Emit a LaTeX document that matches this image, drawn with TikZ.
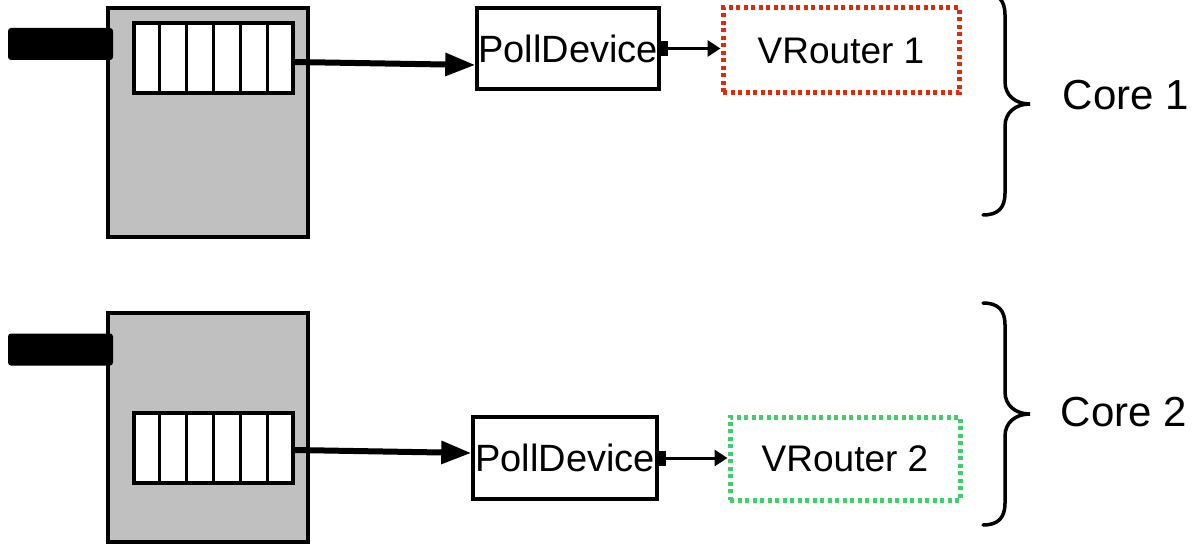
\documentclass[tikz,border=0pt]{standalone}
\usepackage{fontspec}
\setmainfont{Liberation Sans}
\usetikzlibrary{arrows.meta,calc}
\definecolor{devgray}{HTML}{C0C0C0}
\definecolor{vred}{HTML}{E02A0A}
\definecolor{vgreen}{HTML}{3DCF6A}
\begin{document}
\begin{tikzpicture}[x=1pt,y=-1pt,
  device/.style={draw=black,line width=3.5pt,fill=devgray,minimum width=200pt,minimum height=229pt,inner sep=0pt},
  plug/.style={fill=black,rounded corners=3pt,minimum width=105pt,minimum height=32pt,inner sep=0pt},
  queue/.style={draw=black,line width=3.5pt,fill=white,minimum width=159pt,minimum height=70pt,inner sep=0pt},
  pollbox/.style={draw=black,line width=3.5pt,fill=white,inner sep=0pt,font=\fontsize{38}{40}\selectfont},
  vbox/.style={line width=5pt,dash pattern=on 4pt off 3.5pt,inner sep=0pt,font=\fontsize{37}{40}\selectfont},
  corelabel/.style={inner sep=0pt,font=\fontsize{42}{46}\selectfont},
  bigarrow/.style={line width=6pt,-{Triangle[length=30pt,width=22pt]}},
  smallarrow/.style={line width=3pt,{Square[length=7pt,width=15pt]}-{Triangle[length=13pt,width=16pt]}},
  bracepath/.style={line width=3.5pt,line cap=round}
]
\useasboundingbox (0,0) rectangle (1193,545);

% ---- Core 1 ----
\node[device] (dev1) at (208,122.5) {};
\node[plug] (plug1) at (60.5,44) {};
\node[queue] (q1) at (213.5,58) {};
\foreach \i in {1,...,5}
  \draw[line width=3.5pt] ($(q1.north west)!\i/6!(q1.north east)$) -- ($(q1.south west)!\i/6!(q1.south east)$);
\node[pollbox,minimum width=182pt,minimum height=81pt] (poll1) at (568,48.5) {PollDevice};
\node[vbox,draw=vred,minimum width=236pt,minimum height=85pt] (vr1) at (841,50.5) {VRouter 1};
\draw[bigarrow] ($(q1.east)+(0,4)$) -- ($(poll1.west)+(0,16.5)$);
\draw[smallarrow] (poll1.east) -- (poll1.east -| vr1.west);
\draw[bracepath] (983,-7) .. controls (998,-7) and (1005,0) .. (1005,15) -- (1005,82)
  .. controls (1005,95) and (1015,104) .. (1030,104)
  .. controls (1015,104) and (1005,113) .. (1005,126) -- (1005,193)
  .. controls (1005,208) and (998,215) .. (983,215);
\node[corelabel] (core1) at (1126,95) {Core 1};

% ---- Core 2 ----
\node[device] (dev2) at (208,427.5) {};
\node[plug] (plug2) at (60.5,349.5) {};
\node[queue] (q2) at (213.5,448) {};
\foreach \i in {1,...,5}
  \draw[line width=3.5pt] ($(q2.north west)!\i/6!(q2.north east)$) -- ($(q2.south west)!\i/6!(q2.south east)$);
\node[pollbox,minimum width=184pt,minimum height=82pt] (poll2) at (565,458) {PollDevice};
\node[vbox,draw=vgreen,minimum width=230pt,minimum height=83pt] (vr2) at (845,458.5) {VRouter 2};
\draw[bigarrow] ($(q2.east)+(0,2)$) -- ($(poll2.west)+(0,-5)$);
\draw[smallarrow] (poll2.east) -- (poll2.east -| vr2.west);
\draw[bracepath] (983,303) .. controls (998,303) and (1005,310) .. (1005,325) -- (1005,392)
  .. controls (1005,405) and (1015,414) .. (1030,414)
  .. controls (1015,414) and (1005,423) .. (1005,436) -- (1005,503)
  .. controls (1005,518) and (998,525) .. (983,525);
\node[corelabel] (core2) at (1124,412) {Core 2};
\end{tikzpicture}
\end{document}
